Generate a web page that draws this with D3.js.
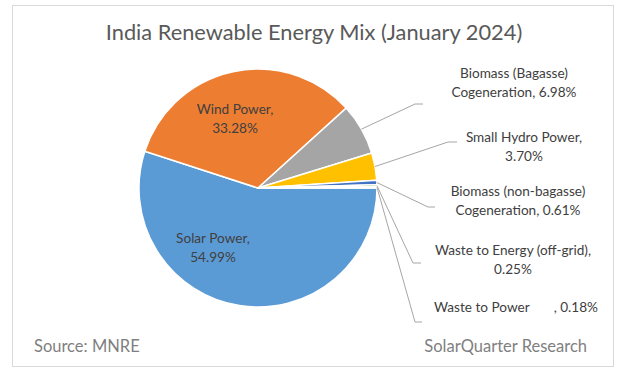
<!DOCTYPE html>
<html>
<head>
<meta charset="utf-8">
<script src="https://cdn.jsdelivr.net/npm/d3@7"></script>
<style>
body{margin:0;background:#fff}
text{font-family:Lato,"Open Sans",sans-serif}
</style>
</head>
<body>
<svg id="chart" width="624" height="376"></svg>
<script>
// data
var sources=['Solar Power','Wind Power','Biomass (Bagasse) Cogeneration','Small Hydro Power','Biomass (non-bagasse) Cogeneration','Waste to Energy (off-grid)','Waste to Power']
var shares=[54.99,33.28,6.98,3.70,0.61,0.25,0.18]
var colors=['#5B9BD5','#ED7D31','#A5A5A5','#FFC000','#4472C4','#70AD47','#264478']
var labelLines=[
    ['Solar Power,','54.99%'],
    ['Wind Power,','33.28%'],
    ['Biomass (Bagasse)','Cogeneration, 6.98%'],
    ['Small Hydro Power,','3.70%'],
    ['Biomass (non-bagasse)','Cogeneration, 0.61%'],
    ['Waste to Energy (off-grid),','0.25%'],
    ['Waste to Power       , 0.18%']
]

var svg=d3.select('#chart')
var W=624,H=376
var cx=258,cy=188,R=119

svg.append('rect')
    .attr('x',12.5).attr('y',5.5)
    .attr('width',601).attr('height',361)
    .attr('fill','#fff').attr('stroke','#d9d9d9').attr('stroke-width',1)

svg.append('text')
    .attr('x',314).attr('y',40)
    .attr('text-anchor','middle')
    .attr('font-size',21.8)
    .attr('fill','#595959')
    .text('India Renewable Energy Mix (January 2024)')

var rows=sources.map((s,i)=>({name:s,value:shares[i],color:colors[i],lines:labelLines[i]}))

// first slice starts at 3 o'clock, clockwise
var pie=d3.pie().value(d=>d.value).sort(null)
    .startAngle(Math.PI/2).endAngle(Math.PI/2+2*Math.PI)
var arcs=pie(rows)
var arc=d3.arc().innerRadius(0).outerRadius(R)

var g=svg.append('g').attr('transform',`translate(${cx},${cy})`)
g.selectAll('path')
    .data(arcs)
    .join('path')
    .attr('d',arc)
    .attr('fill',d=>d.data.color)
    .attr('stroke','#fff')
    .attr('stroke-width',1.5)
    .attr('stroke-linejoin','round')

// inside labels
var inside=[[-45,55],[-23,-74]]
arcs.slice(0,2).forEach((d,i)=>{
    var t=g.append('text')
        .attr('text-anchor','middle')
        .attr('font-size',13.6)
        .attr('fill','#404040')
    d.data.lines.forEach((l,j)=>{
        t.append('tspan').attr('x',inside[i][0]).attr('y',inside[i][1]+j*18.5).text(l)
    })
})

// outside labels: [label center x, first baseline y, elbow x, elbow y, end x]
var outside=[
    [514,78,415,104,423],
    [524,142,448,142,457],
    [518,196,428,207,435],
    [513,255,413,263,421],
    [516,312,415,322,422]
]
arcs.slice(2).forEach((d,i)=>{
    var o=outside[i]
    var a=(d.startAngle+d.endAngle)/2
    var sx=cx+Math.sin(a)*R, sy=cy-Math.cos(a)*R
    svg.append('polyline')
        .attr('points',[[sx,sy],[o[2],o[3]],[o[4],o[3]]].map(p=>p.join(',')).join(' '))
        .attr('fill','none')
        .attr('stroke','#a6a6a6')
        .attr('stroke-width',1)
    var t=svg.append('text')
        .attr('text-anchor','middle')
        .attr('font-size',13.6)
        .attr('fill','#404040')
    d.data.lines.forEach((l,j)=>{
        t.append('tspan').attr('x',o[0]).attr('y',o[1]+j*18.5).style('white-space','pre').text(l)
    })
})

svg.append('text')
    .attr('x',34).attr('y',352)
    .attr('font-size',16.5)
    .attr('fill','#7f7f7f')
    .text('Source: MNRE')
svg.append('text')
    .attr('x',587).attr('y',352)
    .attr('text-anchor','end')
    .attr('font-size',16.5)
    .attr('fill','#7f7f7f')
    .text('SolarQuarter Research')
</script>
</body>
</html>
